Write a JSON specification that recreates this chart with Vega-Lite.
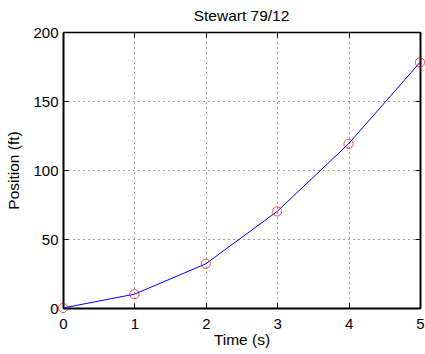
{
  "$schema": "https://vega.github.io/schema/vega-lite/v6.json",
  "width": 357,
  "height": 276,
  "autosize": {"type": "none"},
  "padding": {"left": 63, "top": 32, "right": 5, "bottom": 46},
  "background": "white",
  "config": {
    "font": "Liberation Sans",
    "view": {"stroke": null},
    "axis": {
      "domainColor": "black",
      "domainWidth": 2,
      "tickColor": "black",
      "labelColor": "black",
      "titleColor": "black",
      "labelFont": "Liberation Sans",
      "titleFont": "Liberation Sans",
      "labelFontSize": 15,
      "titleFontSize": 15.5,
      "titleFontWeight": "normal",
      "labelFlush": false,
      "tickSize": -5,
      "grid": false
    },
    "title": {"font": "Liberation Sans", "fontSize": 15.5, "fontWeight": "normal", "color": "black"}
  },
  "title": {"text": "Stewart 79/12", "offset": 1},
  "data": {"values": [
    {"t": 0, "s": 0},
    {"t": 1, "s": 10},
    {"t": 2, "s": 32},
    {"t": 3, "s": 70},
    {"t": 4, "s": 119},
    {"t": 5, "s": 178}
  ]},
  "layer": [
    {
      "mark": {"type": "line", "color": "#0000ff", "strokeWidth": 1, "interpolate": "linear", "clip": false},
      "encoding": {
        "x": {"field": "t", "type": "quantitative", "scale": {"domain": [0, 5], "nice": false, "zero": false},
          "axis": {"title": "Time (s)", "values": [0,1,2,3,4,5], "format": "d", "grid": true, "gridColor": "#444444", "gridDash": [1,4], "gridWidth": 1, "labelPadding": 13, "titlePadding": 1}},
        "y": {"field": "s", "type": "quantitative", "scale": {"domain": [0, 200], "nice": false},
          "axis": {"title": "Position (ft)", "values": [0,50,100,150,200], "grid": true, "gridColor": "#444444", "gridDash": [1,4], "gridWidth": 1, "labelPadding": 10, "titlePadding": 11}}
      }
    },
    {
      "mark": {"type": "point", "shape": "circle", "filled": false, "color": "#ff0000", "strokeWidth": 1, "size": 85, "clip": false},
      "encoding": {
        "x": {"field": "t", "type": "quantitative", "axis": {"orient": "top", "labels": false, "title": null, "values": [0,1,2,3,4,5], "domain": true, "domainWidth": 1.5}},
        "y": {"field": "s", "type": "quantitative", "axis": {"orient": "right", "labels": false, "title": null, "values": [0,50,100,150,200], "domain": true}}
      }
    }
  ],
  "resolve": {"axis": {"x": "independent", "y": "independent"}}
}
